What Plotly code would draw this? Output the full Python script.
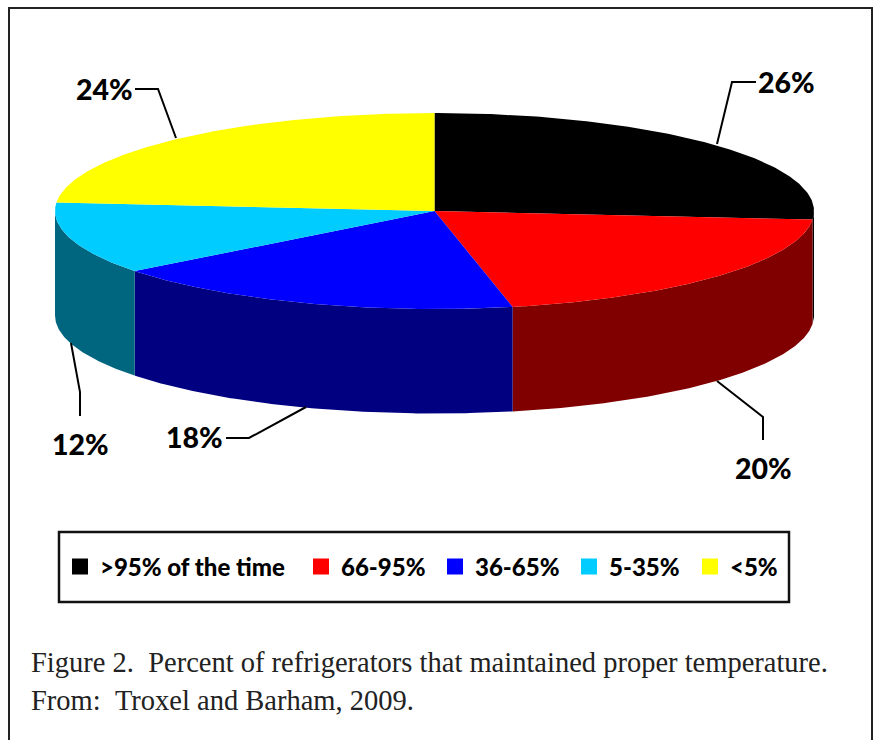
import numpy as np
import plotly.graph_objects as go

categories = [">95% of the time", "66-95%", "36-65%", "5-35%", "<5%"]
shares = [26.4, 20.3, 17.8, 11.9, 23.6]
pct_labels = ["26%", "20%", "18%", "12%", "24%"]
top_colors = ["#000000", "#FF0000", "#0000FF", "#00CCFF", "#FFFF00"]
side_colors = ["#000000", "#800000", "#000080", "#006680", "#808000"]

W, H = 874, 740
CX, CY, RX, RY, DEPTH = 434.5, 211.0, 379.5, 98.0, 104.5
legend_text_left = [100, 341, 475, 609, 730]


def rim(a0, a1, dy=0.0):
    t = np.radians(np.linspace(a0, a1, max(int(abs(a1 - a0) * 2), 2)))
    return CX + RX * np.sin(t), CY + dy - RY * np.cos(t)


fig = go.Figure()
edges = np.concatenate([[0], np.cumsum(shares)]) * 3.6

# side walls (only the part of the rim facing the viewer: 90 to 270 degrees)
for i, cat in enumerate(categories):
    a0, a1 = max(edges[i], 90), min(edges[i + 1], 270)
    if a1 <= a0:
        continue
    xt, yt = rim(a0, a1)
    xb, yb = rim(a1, a0, DEPTH)
    fig.add_trace(go.Scatter(x=np.r_[xt, xb], y=np.r_[yt, yb], fill="toself", mode="lines",
                             line=dict(width=0), fillcolor=side_colors[i],
                             hoverinfo="skip", showlegend=False))

# top faces
for i, cat in enumerate(categories):
    xt, yt = rim(edges[i], edges[i + 1])
    fig.add_trace(go.Scatter(x=np.r_[CX, xt, CX], y=np.r_[CY, yt, CY], fill="toself", mode="lines",
                             line=dict(width=0), fillcolor=top_colors[i], name=cat,
                             text=[pct_labels[i]], hoverinfo="name+text", showlegend=False))

# legend entries: one single-entry legend per category so each can be placed like the reference
legend_font = dict(family="Lato", size=24, color="black", weight=900)
legend_layout = {}
for i, cat in enumerate(categories):
    key = "legend" if i == 0 else f"legend{i + 1}"
    fig.add_trace(go.Scatter(x=[None], y=[None], mode="markers", name=cat, legend=key,
                             marker=dict(symbol="square", size=18, color=top_colors[i])))
    legend_layout[key] = dict(x=(legend_text_left[i] - 40) / W, y=1 - 567 / H, xanchor="left", yanchor="middle",
                              bgcolor="rgba(0,0,0,0)", itemwidth=30, itemsizing="trace", font=legend_font)

leaders = [
    [(756, 82), (732, 82), (717, 144)],
    [(717, 381), (763, 417), (763, 440)],
    [(306, 407), (249, 438), (226, 438)],
    [(71, 343), (80, 392), (80, 416)],
    [(135, 89), (158, 89), (176, 138)],
]
label_pos = [(786, 82), (763, 468), (194, 437), (80, 444), (104, 89)]

shapes = [
    dict(type="rect", x0=9, y0=8, x1=872, y1=770, line=dict(color="#222222", width=2)),
    dict(type="rect", x0=59, y0=532, x1=789, y1=602, line=dict(color="#111111", width=2.5)),
]
for pts in leaders:
    path = "M " + " L ".join(f"{x},{y}" for x, y in pts)
    shapes.append(dict(type="path", path=path, line=dict(color="black", width=2)))

annotations = []
for (x, y), t in zip(label_pos, pct_labels):
    annotations.append(dict(x=x, y=y, text=t, showarrow=False, xanchor="center", yanchor="middle",
                            font=dict(family="Lato", size=28.5, color="black", weight=900)))
captions = [
    ("Figure 2.\u00a0\u00a0Percent of refrigerators that maintained proper temperature.", 662),
    ("From:\u00a0\u00a0Troxel and Barham, 2009.", 700),
]
for t, y in captions:
    annotations.append(dict(x=29, y=y, text=t, showarrow=False, xanchor="left", yanchor="middle",
                            font=dict(family="Liberation Serif", size=28.5, color="#222222")))

fig.update_layout(
    width=W, height=H, margin=dict(l=0, r=0, t=0, b=0),
    paper_bgcolor="white", plot_bgcolor="white",
    xaxis=dict(range=[0, W], visible=False, fixedrange=True),
    yaxis=dict(range=[H, 0], visible=False, fixedrange=True),
    shapes=shapes, annotations=annotations,
    **legend_layout,
)
fig.write_html("out.html", config=dict(displayModeBar=False),
               post_script="document.body.style.margin='0';document.body.style.overflow='hidden';")
